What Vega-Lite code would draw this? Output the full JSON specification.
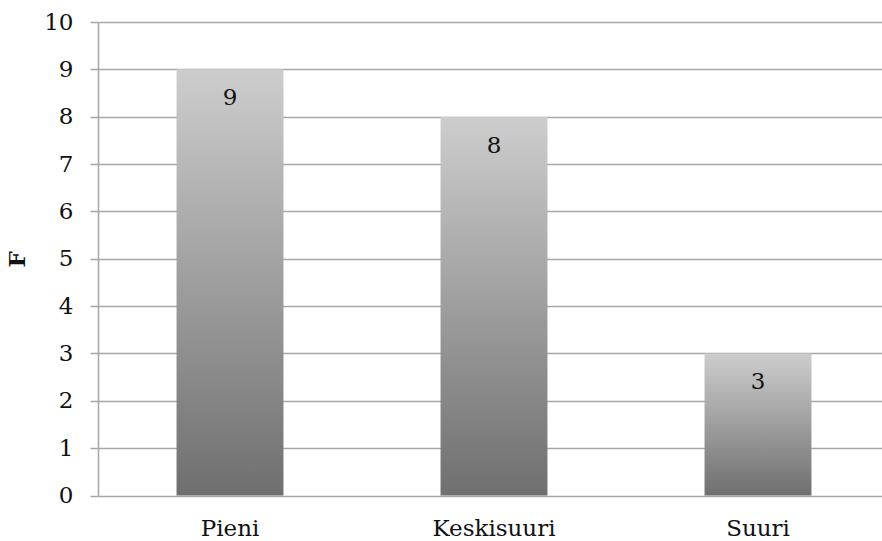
{
  "$schema": "https://vega.github.io/schema/vega-lite/v6.json",
  "autosize": "none",
  "width": 784,
  "height": 473.5,
  "padding": {"left": 98, "top": 22, "right": 0, "bottom": 45.5},
  "background": "white",
  "config": {
    "font": "DejaVu Serif",
    "view": {"stroke": null}
  },
  "data": {
    "values": [
      {"koko": "Pieni", "F": 9},
      {"koko": "Keskisuuri", "F": 8},
      {"koko": "Suuri", "F": 3}
    ]
  },
  "encoding": {
    "x": {
      "field": "koko",
      "type": "nominal",
      "sort": null,
      "scale": {"range": [0, 792], "paddingInner": 0.595, "paddingOuter": 0.2975},
      "axis": {
        "title": null,
        "domain": false,
        "ticks": false,
        "labelAngle": 0,
        "labelFontSize": 23,
        "labelColor": "#111111",
        "labelPadding": 22
      }
    },
    "y": {
      "field": "F",
      "type": "quantitative",
      "scale": {"domain": [0, 10], "nice": false},
      "axis": {
        "title": "F",
        "titleFontSize": 23,
        "titleFontWeight": "bold",
        "titleColor": "#111111",
        "titlePadding": 14,
        "values": [0, 1, 2, 3, 4, 5, 6, 7, 8, 9, 10],
        "format": "d",
        "labelFontSize": 23,
        "labelColor": "#111111",
        "labelPadding": 17,
        "tickSize": 8,
        "tickColor": "#a6a6a6",
        "tickWidth": 1.5,
        "domainColor": "#a6a6a6",
        "domainWidth": 1.5,
        "grid": true,
        "gridColor": "#a6a6a6",
        "gridWidth": 1.5
      }
    }
  },
  "layer": [
    {
      "mark": {
        "type": "bar",
        "color": {
          "gradient": "linear",
          "x1": 0, "y1": 0, "x2": 0, "y2": 1,
          "stops": [
            {"offset": 0, "color": "#cdcdcd"},
            {"offset": 1, "color": "#6f6f6f"}
          ]
        }
      }
    },
    {
      "mark": {
        "type": "text",
        "baseline": "middle",
        "dy": 29,
        "fontSize": 23,
        "color": "#111111"
      },
      "encoding": {
        "text": {"field": "F", "type": "quantitative"}
      }
    }
  ]
}
